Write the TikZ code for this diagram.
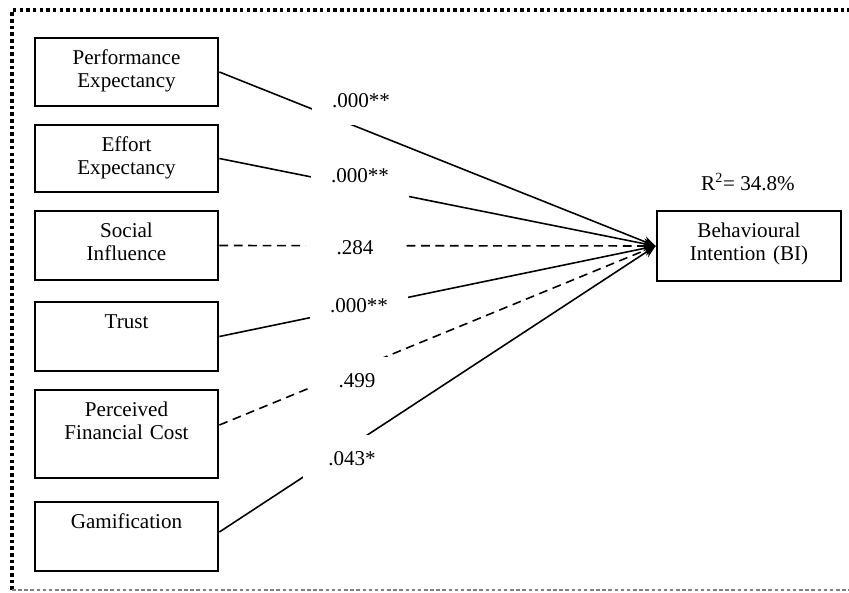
\documentclass[tikz,border=0pt]{standalone}
\usepackage{fontspec}
\setmainfont{Liberation Serif}
\usetikzlibrary{arrows.meta}
\begin{document}
\begin{tikzpicture}[x=0.02cm, y=-0.02cm, font=\fontsize{12pt}{13.2pt}\selectfont,
  box/.style = {draw, line width=1.6pt, text width=3.4cm, align=center, inner xsep=0.13cm, inner ysep=0pt, text height=0.52cm},
  lbl/.style = {fill=white, minimum width=1.96cm, minimum height=0.96cm},
  link/.style = {line width=0.9pt, -{Stealth[length=7pt, width=6pt]}},
  weak/.style = {link, dash pattern=on 5pt off 3.2pt}]
\useasboundingbox (0,0) rectangle (849,592);
\draw[line width=1.8pt, dash pattern=on 2pt off 1.8pt] (12,590) -- (12,10) -- (849,10);
\draw[gray, line width=0.6pt, dash pattern=on 2pt off 1.5pt] (12,590) -- (849,590);
\node[box, text depth=0.84cm] (1) at (126.5,72) {Performance\\Expectancy};
\node[box, text depth=0.82cm] (2) at (126.5,158.5) {Effort\\Expectancy};
\node[box, text depth=0.86cm] (3) at (126.5,245.5) {Social\\Influence};
\node[box, text depth=0.86cm] (4) at (126.5,336.5) {Trust};
\node[box, text depth=1.24cm] (5) at (126.5,434) {Perceived\\Financial Cost};
\node[box, text depth=0.86cm] (6) at (126.5,536.5) {Gamification};
\node[box, text depth=0.88cm, text width=3.42cm] (7) at (749,246) {Behavioural\\Intention (BI)};
\node (14) at (748,182) {R\textsuperscript{2}= 34.8\%};
\draw[link] (1.east) -- (7.west);
\draw[link] (2.east) -- (7.west);
\draw[weak] (3.east) -- (7.west);
\draw[link] (4.east) -- (7.west);
\draw[weak] ([yshift=0.18cm]5.east) -- (7.west);
\draw[link] ([yshift=0.09cm]6.east) -- (7.west);
\node[lbl] (8) at (361,101) {.000**};
\node[lbl] (9) at (360,176) {.000**};
\node[lbl] (10) at (355,248) {.284};
\node[lbl] (11) at (359,306) {.000**};
\node[lbl] (12) at (357,381) {.499};
\node[lbl] (13) at (352,459) {.043*};
\end{tikzpicture}
\end{document}
